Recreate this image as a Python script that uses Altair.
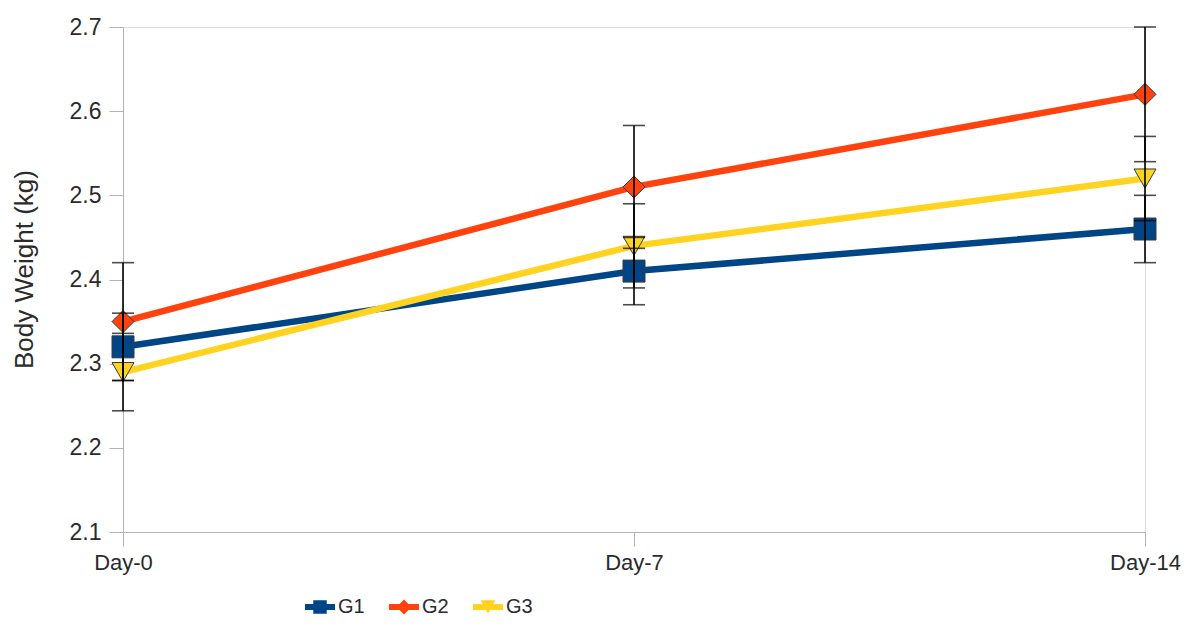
import altair as alt
import pandas as pd

days = ["Day-0", "Day-7", "Day-14"]
groups = ["G1", "G2", "G3"]
g1_mean = [2.32, 2.41, 2.46]
g1_err = [0.04, 0.04, 0.04]
g2_mean = [2.35, 2.51, 2.62]
g2_err = [0.07, 0.073, 0.08]
g3_mean = [2.29, 2.44, 2.52]
g3_err = [0.046, 0.05, 0.05]
colors = ["#004586", "#ff420e", "#ffd320"]
shapes = ["square", "diamond", "triangle-down"]
# legend symbols: line segment merged with the marker
legend_shapes = [
    "M-1,-0.2H-0.45V-0.45H0.45V-0.2H1V0.2H0.45V0.45H-0.45V0.2H-1Z",
    "M-1,-0.2H-0.3L0,-0.5L0.3,-0.2H1V0.2H0.3L0,0.5L-0.3,0.2H-1Z",
    "M-1,-0.2H-0.361L-0.5,-0.45H0.5L0.361,-0.2H1V0.2H0.139L0,0.45L-0.139,0.2H-1Z",
]
y_ticks = [2.1, 2.2, 2.3, 2.4, 2.5, 2.6, 2.7]

rows = []
for g, means, errs in zip(groups, [g1_mean, g2_mean, g3_mean], [g1_err, g2_err, g3_err]):
    for d, m, e in zip(days, means, errs):
        rows.append({"day": d, "group": g, "leg": g, "mean": m, "lo": m - e, "hi": m + e})
df = pd.DataFrame(rows)

FONT = "Liberation Sans"
TXT = "#2b2b2b"

x_enc = alt.X("day:N", sort=days, scale=alt.Scale(type="point", padding=0),
              axis=alt.Axis(title=None, labelAngle=0, tickSize=14, labelPadding=6,
                            domainColor="#b3b3b3", tickColor="#b3b3b3",
                            labelFontSize=22, labelColor=TXT, labelFont=FONT))
y_scale = alt.Scale(domain=[2.1, 2.7], zero=False, nice=False)
y_enc = alt.Y("mean:Q", scale=y_scale,
              axis=alt.Axis(title="Body Weight (kg)", values=y_ticks, format=".1f", grid=False,
                            tickSize=14, labelPadding=8, domainColor="#b3b3b3", tickColor="#b3b3b3",
                            labelFontSize=23, labelColor=TXT, labelFont=FONT,
                            titleFontSize=26, titleFontWeight="normal", titleColor=TXT,
                            titleFont=FONT, titleX=-86, titleY=242))

lines = alt.Chart(df).mark_line(strokeWidth=6.5).encode(
    x=x_enc, y=y_enc,
    color=alt.Color("group:N", scale=alt.Scale(domain=groups, range=colors), legend=None),
)

points = alt.Chart(df).mark_point(filled=True, size=484, stroke="#3a3a3a", strokeWidth=1, opacity=1).encode(
    x=alt.X("day:N", sort=days), y=alt.Y("mean:Q"),
    fill=alt.Fill("group:N", scale=alt.Scale(domain=groups, range=colors), legend=None),
    shape=alt.Shape("group:N", scale=alt.Scale(domain=groups, range=shapes), legend=None),
)

leg = alt.Legend(title=None, orient="none", direction="horizontal",
                 legendX=182, legendY=565,
                 symbolSize=900, symbolStrokeWidth=0, symbolOpacity=1,
                 labelOffset=3, labelFontSize=20, labelColor=TXT, labelFont=FONT,
                 columnPadding=24)
legend_layer = alt.Chart(df).transform_filter("false").mark_point(filled=True, opacity=1).encode(
    x=alt.X("day:N", sort=days), y=alt.Y("mean:Q"),
    fill=alt.Fill("leg:N", scale=alt.Scale(domain=groups, range=colors), legend=leg),
    shape=alt.Shape("leg:N", scale=alt.Scale(domain=groups, range=legend_shapes), legend=leg),
)

rules = alt.Chart(df).mark_rule(color="black", strokeWidth=1.6).encode(
    x=alt.X("day:N", sort=days), y=alt.Y("lo:Q"), y2="hi:Q")
cap_lo = alt.Chart(df).mark_tick(color="black", size=22, thickness=1.6, orient="horizontal").encode(
    x=alt.X("day:N", sort=days), y=alt.Y("lo:Q"))
cap_hi = alt.Chart(df).mark_tick(color="black", size=22, thickness=1.6, orient="horizontal").encode(
    x=alt.X("day:N", sort=days), y=alt.Y("hi:Q"))

chart = alt.layer(lines, points, legend_layer, rules, cap_lo, cap_hi).resolve_scale(
    fill="independent", shape="independent"
).properties(
    width=1022, height=505,
    autosize=alt.AutoSizeParams(type="none"),
    padding={"left": 115, "top": 19, "right": 36, "bottom": 86},
).configure_view(stroke=None).configure(background="white")

chart.save("out.html", embed_options={"renderer": "svg", "actions": False})
